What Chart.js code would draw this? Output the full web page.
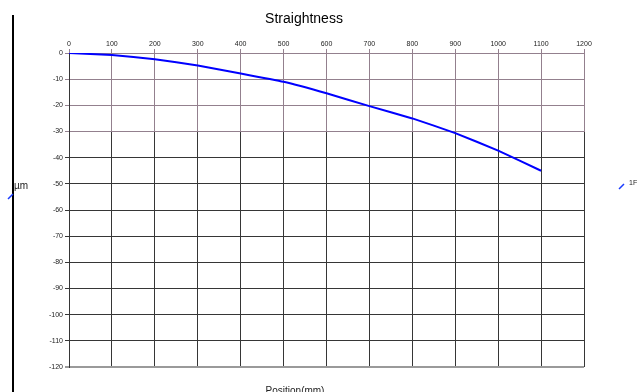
<!DOCTYPE html>
<html>
<head>
<meta charset="utf-8">
<script src="https://cdn.jsdelivr.net/npm/chart.js@4/dist/chart.umd.min.js"></script>
<style>
  html, body { margin: 0; padding: 0; background: #fff; }
  canvas { display: block; }
</style>
</head>
<body>
<canvas id="chart" width="640" height="392"></canvas>
<script>
// values
const positions = [0, 100, 200, 300, 400, 500, 600, 700, 800, 900, 1000, 1100];
const deviation = [0, -0.8, -2.4, -4.8, -7.8, -11.0, -15.4, -20.3, -25.0, -30.6, -37.3, -45.0];
const seriesName = '1F';
const xTicks = [0, 100, 200, 300, 400, 500, 600, 700, 800, 900, 1000, 1100, 1200];
const yTicks = [0, -10, -20, -30, -40, -50, -60, -70, -80, -90, -100, -110, -120];

const FONT = 'Liberation Sans, Arial, sans-serif';
const upperColor = '#93808e';
const lowerColor = '#363636';

function xGridColor(ctx) {
  const chart = ctx.chart;
  const area = chart.chartArea;
  if (!area) return lowerColor;
  const y30 = chart.scales.y.getPixelForValue(-30);
  const g = chart.ctx.createLinearGradient(0, area.top - 5, 0, area.bottom);
  const f = (y30 - area.top + 5) / (area.bottom - area.top + 5);
  g.addColorStop(0, upperColor);
  g.addColorStop(f, upperColor);
  g.addColorStop(Math.min(1, f + 0.001), lowerColor);
  g.addColorStop(1, lowerColor);
  return g;
}

const extras = {
  id: 'extras',
  afterDraw(chart) {
    const c = chart.ctx;
    c.save();
    // left frame line
    c.strokeStyle = '#000';
    c.lineWidth = 2;
    c.beginPath();
    c.moveTo(13, 15);
    c.lineTo(13, 392);
    c.stroke();
    // small blue marks
    c.strokeStyle = '#1a3cff';
    c.lineWidth = 1.5;
    c.beginPath();
    c.moveTo(8, 199); c.lineTo(13, 194);
    c.moveTo(619, 189); c.lineTo(624, 184);
    c.stroke();
    c.fillStyle = '#000';
    c.textBaseline = 'middle';
    c.textAlign = 'center';
    c.font = '14px ' + FONT;
    c.fillText('Straightness', 304, 19);
    c.fillStyle = '#222';
    c.textAlign = 'left';
    c.font = '10px ' + FONT;
    c.fillText('µm', 14, 186);
    c.font = '7px ' + FONT;
    c.fillText(seriesName, 629, 183);
    c.font = '10px ' + FONT;
    c.textAlign = 'center';
    c.fillText('Position(mm)', 295, 391);
    c.restore();
  }
};

new Chart(document.getElementById('chart'), {
  type: 'line',
  data: {
    datasets: [{
      label: seriesName,
      data: positions.map((p, i) => ({ x: p, y: deviation[i] })),
      borderColor: '#0000ff',
      borderWidth: 2,
      pointRadius: 0,
      tension: 0.1,
      fill: false
    }]
  },
  options: {
    responsive: false,
    animation: false,
    layout: { padding: { left: 0, right: 56, top: 33, bottom: 25 } },
    plugins: {
      legend: { display: false },
      tooltip: { enabled: false },
      title: { display: false }
    },
    scales: {
      x: {
        type: 'linear',
        position: 'top',
        min: 0,
        max: 1200,
        afterFit(scale) { scale.height = 20; },
        afterBuildTicks(scale) { scale.ticks = xTicks.map(v => ({ value: v })); },
        ticks: {
          color: '#222',
          font: { family: FONT, size: 7 },
          padding: 1,
          maxRotation: 0,
          callback: v => String(v)
        },
        grid: { color: xGridColor, lineWidth: 1, tickLength: 4 },
        border: { color: upperColor }
      },
      y: {
        min: -120,
        max: 0,
        afterFit(scale) { scale.width = 69; },
        afterBuildTicks(scale) { scale.ticks = yTicks.map(v => ({ value: v })); },
        ticks: {
          color: '#222',
          font: { family: FONT, size: 7 },
          padding: 2,
          callback: v => String(v)
        },
        grid: {
          color: ctx => {
            const v = ctx.tick ? ctx.tick.value : 0;
            if (v === -120) return '#9a9a9a';
            return v >= -30 ? upperColor : lowerColor;
          },
          lineWidth: ctx => (ctx.tick && ctx.tick.value === -120 ? 2 : 1),
          tickLength: 4
        },
        border: { color: lowerColor }
      }
    }
  },
  plugins: [extras]
});
</script>
</body>
</html>
